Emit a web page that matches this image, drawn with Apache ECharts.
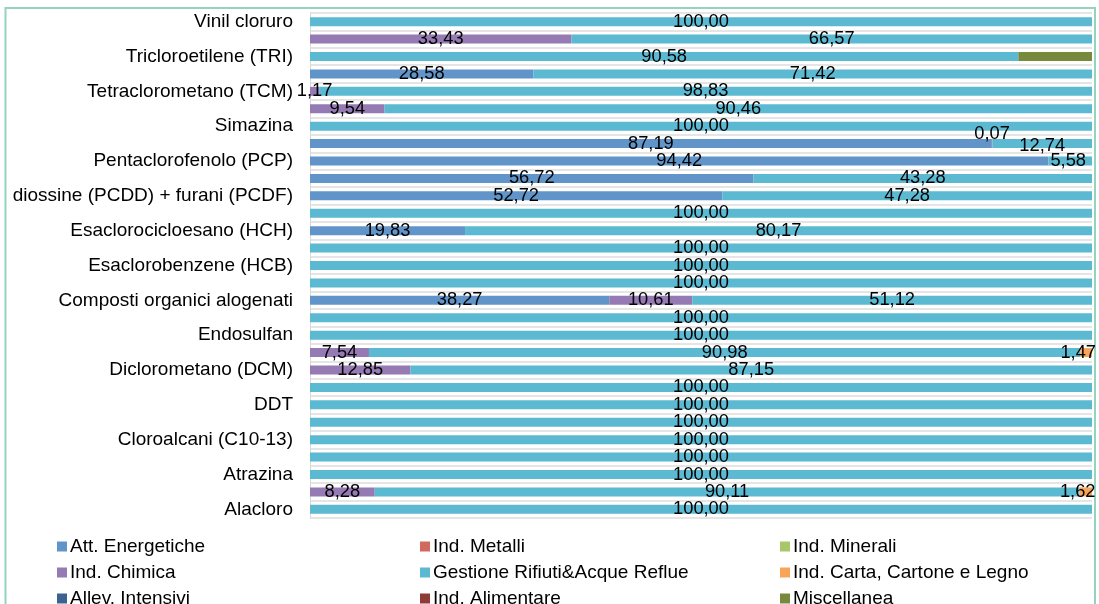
<!DOCTYPE html>
<html>
<head>
<meta charset="utf-8">
<script src="https://cdn.jsdelivr.net/npm/echarts@6/dist/echarts.min.js"></script>
<style>
html,body{margin:0;padding:0;background:#fff;}
#chart{width:1099px;height:604px;}
</style>
</head>
<body>
<div id="chart"></div>
<script>
// Categories, top to bottom (only every other one is labelled on the axis, as in the reference)
const categories = [
  'Vinil cloruro', 'Triclorometano', 'Tricloroetilene (TRI)', 'Triclorobenzeni (TCB)',
  'Tetraclorometano (TCM)', 'Tetracloroetilene (PER)', 'Simazina', 'Policlorobifenili (PCB)',
  'Pentaclorofenolo (PCP)', 'Pentaclorobenzene', 'diossine (PCDD) + furani (PCDF)', 'Lindano',
  'Esaclorocicloesano (HCH)', 'Esaclorobutadiene (HCBD)', 'Esaclorobenzene (HCB)', 'Eptacloro',
  'Composti organici alogenati', 'Endrin', 'Endosulfan', 'Dieldrin',
  'Diclorometano (DCM)', '1,2-dicloroetano (DCE)', 'DDT', 'Clorfenvinfos',
  'Cloroalcani (C10-13)', 'Clordano', 'Atrazina', 'Aldrin', 'Alacloro'
];

const attEnergetiche = [null,null,null,28.58,null,null,null,87.19,94.42,56.72,52.72,null,19.83,null,null,null,38.27,null,null,null,null,null,null,null,null,null,null,null,null];
const indMetalli     = [null,null,null,null,null,null,null,0.07,null,null,null,null,null,null,null,null,null,null,null,null,null,null,null,null,null,null,null,null,null];
const indMinerali    = [null,null,null,null,null,null,null,null,null,null,null,null,null,null,null,null,null,null,null,null,null,null,null,null,null,null,null,null,null];
const indChimica     = [null,33.43,null,null,1.17,9.54,null,null,null,null,null,null,null,null,null,null,10.61,null,null,7.54,12.85,null,null,null,null,null,null,8.28,null];
const gestioneRifiuti= [100,66.57,90.58,71.42,98.83,90.46,100,12.74,5.58,43.28,47.28,100,80.17,100,100,100,51.12,100,100,90.98,87.15,100,100,100,100,100,100,90.11,100];
const indCarta       = [null,null,null,null,null,null,null,null,null,null,null,null,null,null,null,null,null,null,null,1.47,null,null,null,null,null,null,null,1.62,null];
const allevIntensivi = [null,null,null,null,null,null,null,null,null,null,null,null,null,null,null,null,null,null,null,null,null,null,null,null,null,null,null,null,null];
const indAlimentare  = [null,null,null,null,null,null,null,null,null,null,null,null,null,null,null,null,null,null,null,null,null,null,null,null,null,null,null,null,null];
const miscellanea    = [null,null,9.42,null,null,null,null,null,null,null,null,null,null,null,null,null,null,null,null,null,null,null,null,null,null,null,null,null,null];

const seriesNames = ['Att. Energetiche','Ind. Metalli','Ind. Minerali','Ind. Chimica','Gestione Rifiuti&Acque Reflue','Ind. Carta, Cartone e Legno','Allev. Intensivi','Ind. Alimentare','Miscellanea'];
const seriesValues = [attEnergetiche, indMetalli, indMinerali, indChimica, gestioneRifiuti, indCarta, allevIntensivi, indAlimentare, miscellanea];
const colors = ['#6195C9','#D2685E','#A9C66A','#957AB3','#5BB9D2','#F8A55A','#3B6291','#8E3A37','#77893D'];

// label tweaks to mimic reference label placement
const labelTweaks = {
  'Miscellanea|2': {show:false},
  'Ind. Metalli|7': {offset:[0,-10]},
  'Gestione Rifiuti&Acque Reflue|7': {offset:[0,2]},
  'Ind. Carta, Cartone e Legno|19': {offset:[-8,0]},
  'Ind. Carta, Cartone e Legno|27': {offset:[-8,0]},
  'Gestione Rifiuti&Acque Reflue|8': {offset:[-2,0]}
};

const FONT = '"Liberation Sans", Arial, sans-serif';

const series = seriesNames.map((name, si) => ({
  name,
  type: 'bar',
  stack: 'total',
  barWidth: 9,
  itemStyle: {color: colors[si]},
  label: {
    show: true,
    position: 'inside',
    color: '#000',
    fontSize: 18.3,
    fontFamily: FONT,
    textBorderWidth: 0,
    formatter: p => p.value == null ? '' : Number(p.value).toFixed(2).replace('.', ',')
  },
  data: seriesValues[si].map((v, i) => {
    const t = labelTweaks[name + '|' + i];
    return t ? {value: v, label: t} : v;
  })
}));

function legendCol(names, left) {
  return {
    orient: 'vertical',
    left, top: 537, height: 120,
    padding: 0,
    itemWidth: 10, itemHeight: 10,
    itemGap: 7,
    icon: 'rect',
    selectedMode: false,
    data: names,
    textStyle: {fontSize: 19, fontFamily: FONT, color: '#000', lineHeight: 18, padding: [0,0,0,-2]}
  };
}

const chart = echarts.init(document.getElementById('chart'), null, {renderer: 'canvas'});
chart.setOption({
  animation: false,
  backgroundColor: '#fff',
  color: colors,
  grid: {left: 310, right: 7, top: 13, height: 505},
  xAxis: {
    type: 'value', min: 0, max: 100,
    axisLine: {show: false}, axisTick: {show: false}, axisLabel: {show: false}, splitLine: {show: false}
  },
  yAxis: {
    type: 'category',
    inverse: true,
    data: categories,
    axisLine: {show: true, lineStyle: {color: '#D9D9D9', width: 1}},
    axisTick: {show: false},
    axisLabel: {interval: 1, fontSize: 19, fontFamily: FONT, color: '#000', margin: 17},
    splitLine: {show: true, interval: 0, lineStyle: {color: '#DCDCDC', width: 1.5}}
  },
  legend: [
    legendCol([seriesNames[0], seriesNames[3], seriesNames[6]], 57),
    legendCol([seriesNames[1], seriesNames[4], seriesNames[7]], 420),
    legendCol([seriesNames[2], seriesNames[5], seriesNames[8]], 780)
  ],
  graphic: [{
    type: 'rect', silent: true,
    shape: {x: 5.5, y: 8, width: 1089.5, height: 640},
    style: {fill: 'none', stroke: '#94D4BC', lineWidth: 2}
  }],
  series
});
</script>
</body>
</html>
